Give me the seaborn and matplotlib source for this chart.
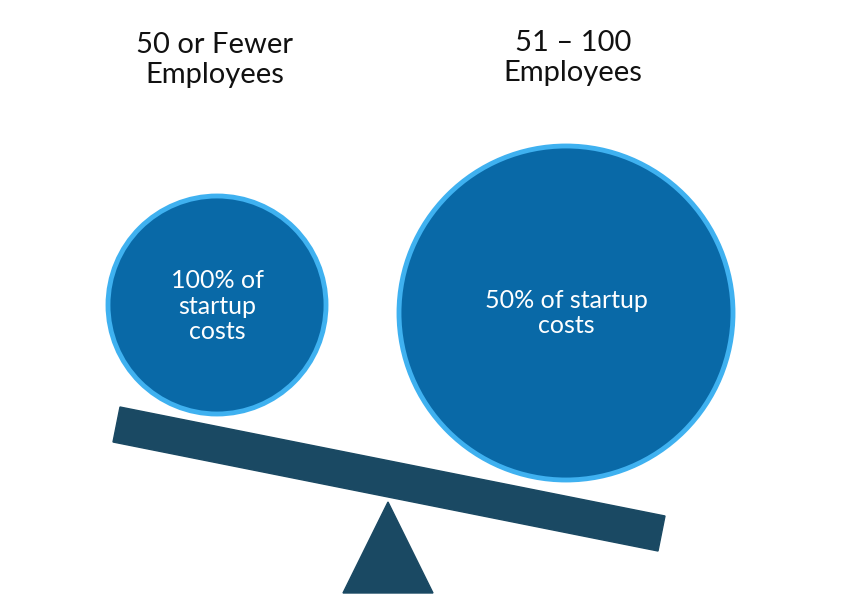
import matplotlib
matplotlib.use("Agg")
import matplotlib.pyplot as plt
import seaborn as sns
from matplotlib.patches import Circle, Polygon

sns.set_theme(style="white")
plt.rcParams['font.family'] = ['Lato', 'DejaVu Sans']

groups = ["50 or Fewer\nEmployees", "51 – 100\nEmployees"]
circle_texts = ["100% of\nstartup\ncosts", "50% of startup\ncosts"]

centers = [(217, 305), (566, 313)]
radii = [109, 167]
title_pos = [(215, 60), (573, 58)]
text_pos = [(217, 306), (566, 313)]

fig = plt.figure(figsize=(8.45, 6.16), dpi=100)
ax = fig.add_axes([0, 0, 1, 1])
ax.set_xlim(0, 845)
ax.set_ylim(616, 0)
ax.set_aspect('equal')
ax.axis('off')

beam = Polygon([(120, 407), (665, 516), (658, 551), (113, 442)], closed=True, color="#1a4963")
ax.add_patch(beam)
tri = Polygon([(388, 502), (343, 593), (433, 593)], closed=True, color="#1a4963")
ax.add_patch(tri)

for c, r in zip(centers, radii):
    ax.add_patch(Circle(c, r, facecolor="#0969a7", edgecolor="#3fb1f0", linewidth=3.5, zorder=3))

for (x, y), t in zip(title_pos, groups):
    ax.text(x, y, t, ha="center", va="center", fontsize=21, color="#111111", linespacing=1.15)
for (x, y), t in zip(text_pos, circle_texts):
    ax.text(x, y, t, ha="center", va="center", fontsize=18, color="white", linespacing=1.15, zorder=4)

fig.savefig("out.png", dpi=100)
